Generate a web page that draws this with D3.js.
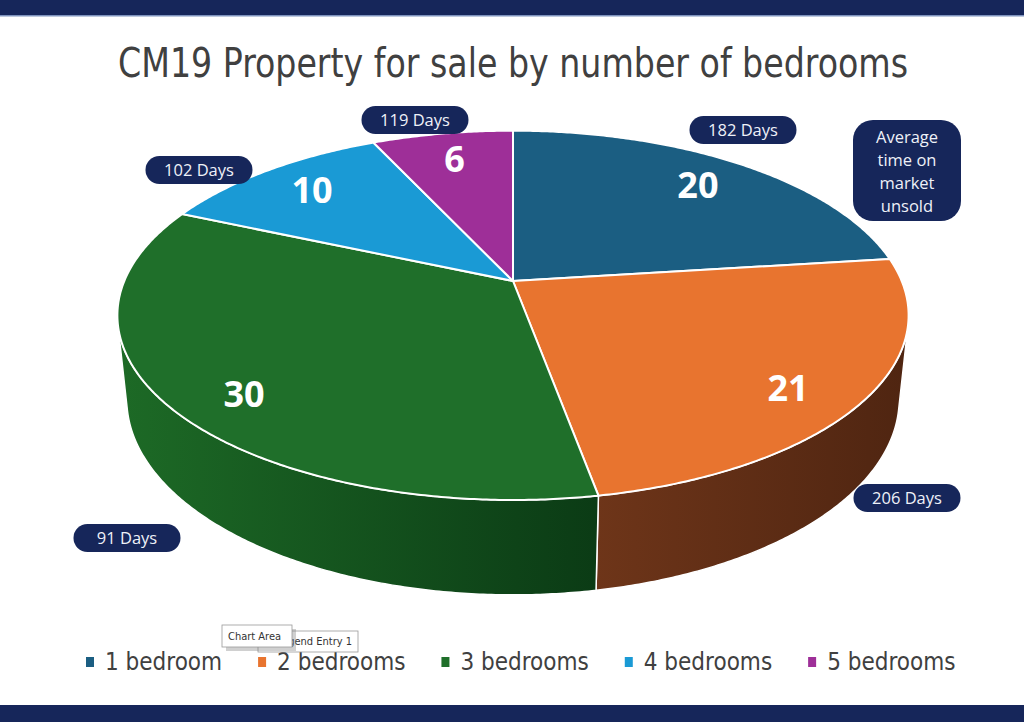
<!DOCTYPE html>
<html>
<head>
<meta charset="utf-8">
<script src="https://cdn.jsdelivr.net/npm/d3@7"></script>
<style>
  html, body { margin: 0; padding: 0; background: #fff; }
  svg { display: block; }
</style>
</head>
<body>
<div id="chart"></div>
<script>
// data
var categories = ["1 bedroom", "2 bedrooms", "3 bedrooms", "4 bedrooms", "5 bedrooms"];
var counts = [20, 21, 30, 10, 6];
var daysOnMarket = [182, 206, 91, 102, 119];
var noteLines = ["Average", "time on", "market", "unsold"];

var topColors = ["#1b5e82", "#e8742f", "#1f6f2a", "#1a9ad5", "#9e2f98"];
var wallLight = ["#1b5e82", "#6e3519", "#1d6a26", "#1a9ad5", "#9e2f98"];
var wallDark = ["#0f3d56", "#4f2511", "#0b3b15", "#0f6a95", "#6b1f66"];

// callout centres for the "Days" pills (layout, not data)
var calloutPos = [[743, 130], [907, 498], [127, 538], [199, 170], [415, 120]];

var svgW = 1024, svgH = 722;

var svg = d3.select("#chart")
    .append("svg")
    .attr("width", svgW)
    .attr("height", svgH);

var defs = svg.append("defs");

// navy bands top and bottom
svg.append("rect").attr("x", 0).attr("y", 0).attr("width", svgW).attr("height", 15).attr("fill", "#16265a");
svg.append("rect").attr("x", 0).attr("y", 15).attr("width", svgW).attr("height", 1.5).attr("fill", "#7d92bd");
svg.append("rect").attr("x", 0).attr("y", 705).attr("width", svgW).attr("height", 17).attr("fill", "#16265a");

// title
svg.append("text")
    .attr("x", 513)
    .attr("y", 77)
    .attr("text-anchor", "middle")
    .attr("font-family", "'Liberation Sans Narrow', 'DejaVu Sans Condensed', Roboto, sans-serif")
    .attr("font-size", 40)
    .attr("fill", "#404040")
    .attr("textLength", 790)
    .attr("lengthAdjust", "spacingAndGlyphs")
    .text("CM19 Property for sale by number of bedrooms");

// perspective projection of a cylinder of radius 1
var cam = {
    cx: 513, cy: 281,
    dist: 4.78, focal: 1858,
    tilt: 27.3 * Math.PI / 180,
    depth: 0.245
};
var sinA = Math.sin(cam.tilt), cosA = Math.cos(cam.tilt);

function project(theta, r, h) {
    var x = r * Math.sin(theta), z = r * Math.cos(theta), y = h;
    var d = cam.dist + z * cosA - y * sinA;
    var up = y * cosA + z * sinA;
    return [cam.cx + cam.focal * x / d, cam.cy - cam.focal * up / d];
}

var pie = d3.pie().sort(null).value(function(d) { return d; });
var arcs = pie(counts);

var line = d3.line().curve(d3.curveLinearClosed);
var step = Math.PI / 360;

function sampleAngles(a0, a1) {
    var out = [];
    for (var a = a0; a < a1; a += step) out.push(a);
    out.push(a1);
    return out;
}

// outer wall visible where cos(theta) < -1 / (dist * cos(tilt))
var visHalf = Math.acos(-1 / (cam.dist * cosA));
var vis0 = visHalf, vis1 = 2 * Math.PI - visHalf;

var walls = svg.append("g");
arcs.forEach(function(a, i) {
    var s = Math.max(a.startAngle, vis0), e = Math.min(a.endAngle, vis1);
    if (e <= s) return;
    var angs = sampleAngles(s, e);
    var pts = angs.map(function(t) { return project(t, 1, 0); })
        .concat(angs.slice().reverse().map(function(t) { return project(t, 1, -cam.depth); }));
    var xs = pts.map(function(p) { return p[0]; });
    var gid = "wall" + i;
    var lg = defs.append("linearGradient")
        .attr("id", gid)
        .attr("gradientUnits", "userSpaceOnUse")
        .attr("x1", d3.min(xs)).attr("x2", d3.max(xs))
        .attr("y1", 0).attr("y2", 0);
    lg.append("stop").attr("offset", 0).attr("stop-color", wallLight[i]);
    lg.append("stop").attr("offset", 1).attr("stop-color", wallDark[i]);
    walls.append("path")
        .attr("d", line(pts))
        .attr("fill", "url(#" + gid + ")")
        .attr("stroke", "#ffffff")
        .attr("stroke-width", 1.5)
        .attr("stroke-linejoin", "round");
});

// top faces
var tops = svg.append("g");
arcs.forEach(function(a, i) {
    var pts = [project(0, 0, 0)].concat(sampleAngles(a.startAngle, a.endAngle).map(function(t) {
        return project(t, 1, 0);
    }));
    tops.append("path")
        .attr("d", line(pts))
        .attr("fill", topColors[i])
        .attr("stroke", "#ffffff")
        .attr("stroke-width", 2)
        .attr("stroke-linejoin", "round");
});

// value labels on the slices (front slices drop a little lower)
arcs.forEach(function(a, i) {
    var mid = (a.startAngle + a.endAngle) / 2;
    var p = project(mid, 0.8, 0);
    var drop = 25 * Math.max(0, -Math.cos(mid));
    svg.append("text")
        .attr("x", p[0])
        .attr("y", p[1] + drop)
        .attr("dy", "0.36em")
        .attr("text-anchor", "middle")
        .attr("font-family", "'Open Sans', 'DejaVu Sans', sans-serif")
        .attr("font-weight", 700)
        .attr("font-size", 36)
        .attr("fill", "#ffffff")
        .text(a.data);
});

// "Days" pills
var pills = svg.append("g");
daysOnMarket.forEach(function(d, i) {
    var c = calloutPos[i];
    var w = 107, h = 28;
    pills.append("rect")
        .attr("x", c[0] - w / 2).attr("y", c[1] - h / 2)
        .attr("width", w).attr("height", h)
        .attr("rx", h / 2)
        .attr("fill", "#16265a");
    pills.append("text")
        .attr("x", c[0]).attr("y", c[1])
        .attr("dy", "0.35em")
        .attr("text-anchor", "middle")
        .attr("font-family", "'Open Sans', 'Noto Sans', sans-serif")
        .attr("font-size", 16.5)
        .attr("fill", "#eef1f8")
        .text(d + " Days");
});

// note box
var note = svg.append("g");
note.append("rect")
    .attr("x", 853).attr("y", 120)
    .attr("width", 108).attr("height", 101)
    .attr("rx", 20)
    .attr("fill", "#16265a");
noteLines.forEach(function(s, i) {
    note.append("text")
        .attr("x", 907).attr("y", 137 + i * 23)
        .attr("dy", "0.35em")
        .attr("text-anchor", "middle")
        .attr("font-family", "'Open Sans', 'Noto Sans', sans-serif")
        .attr("font-size", 16.5)
        .attr("fill", "#eef1f8")
        .text(s);
});

// legend
var legend = svg.append("g").attr("transform", "translate(0,662)");
var lx = 86;
categories.forEach(function(c, i) {
    legend.append("rect")
        .attr("x", lx).attr("y", -5)
        .attr("width", 8).attr("height", 10)
        .attr("fill", topColors[i]);
    var t = legend.append("text")
        .attr("x", lx + 19).attr("y", 0)
        .attr("dy", "0.35em")
        .attr("font-family", "'Liberation Sans Narrow', 'DejaVu Sans Condensed', Roboto, sans-serif")
        .attr("font-size", 24)
        .attr("fill", "#404040")
        .text(c);
    lx += 19 + t.node().getComputedTextLength() + 36;
});

// screenshot tooltips
var tips = svg.append("g")
    .attr("font-family", "'Liberation Sans Narrow', 'DejaVu Sans Condensed', sans-serif")
    .attr("font-size", 11)
    .attr("fill", "#333");
tips.append("rect").attr("x", 258).attr("y", 631).attr("width", 100).attr("height", 21)
    .attr("fill", "#fff").attr("stroke", "#9a9a9a").attr("stroke-width", 0.8);
tips.append("text").attr("x", 352).attr("y", 645).attr("text-anchor", "end").text("Legend Entry 1");
tips.append("rect").attr("x", 224).attr("y", 627).attr("width", 70).attr("height", 22)
    .attr("fill", "#777").attr("opacity", 0.35).attr("transform", "translate(2,2)");
tips.append("rect").attr("x", 222).attr("y", 625).attr("width", 70).attr("height", 22)
    .attr("fill", "#fff").attr("stroke", "#9a9a9a").attr("stroke-width", 0.8);
tips.append("text").attr("x", 228).attr("y", 640).text("Chart Area");
</script>
</body>
</html>
